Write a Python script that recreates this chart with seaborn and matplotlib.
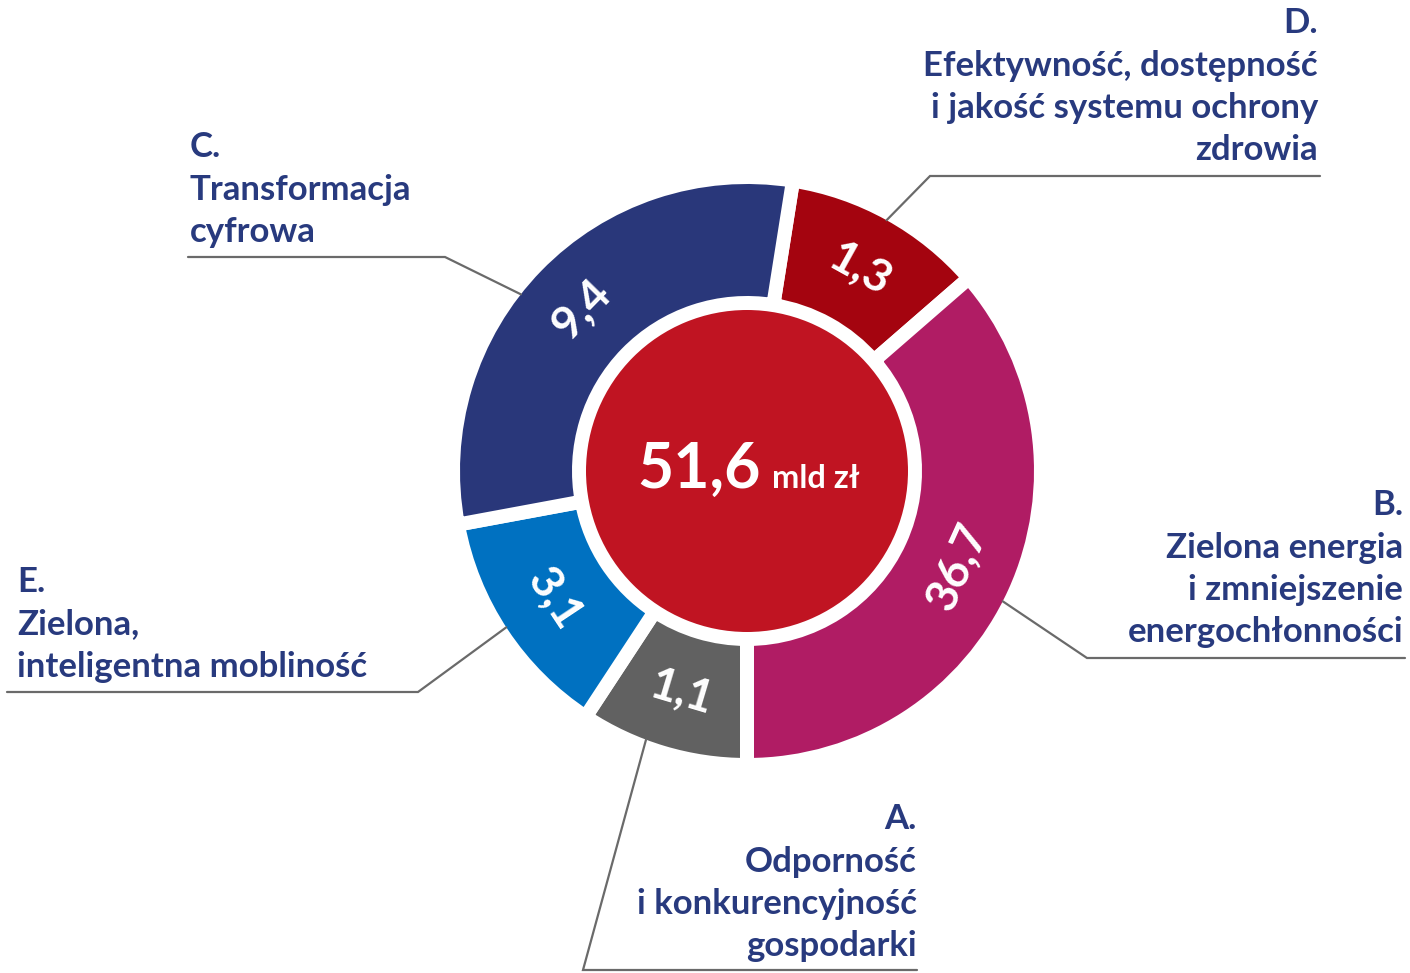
import matplotlib
matplotlib.use("Agg")
import matplotlib.pyplot as plt
import seaborn as sns
import numpy as np

#%% data

codes = ["D", "B", "A", "E", "C"]
values = [1.3, 36.7, 1.1, 3.1, 9.4]          # mld zl
# angular size of each slice as drawn in the graphic (degrees, clockwise from D)
slice_deg = [40.0, 131.0, 33.3, 46.2, 109.5]
total = 51.6

titles = {
    "D": ["D.", "Efektywność, dostępność", "i jakość systemu ochrony", "zdrowia"],
    "B": ["B.", "Zielona energia", "i zmniejszenie", "energochłonności"],
    "A": ["A.", "Odporność", "i konkurencyjność", "gospodarki"],
    "E": ["E.", "Zielona,", "inteligentna mobliność"],
    "C": ["C.", "Transformacja", "cyfrowa"],
}

colors = ["#a4040f", "#b01c64", "#616161", "#0071c1", "#29377a"]
center_color = "#c01422"
text_color = "#283a7e"
line_color = "#6a6a6a"

#%% layout (pixels, y from top)

W, H = 1410, 973
cx, cy = 747, H - 471
r_out, r_in = 287, 175
gap = 14                      # white gap between slices, px
r_center = 161
step = 42.5                   # line step of the labels

# text anchor x, alignment, first baseline, underline (far end, elbow, y), angle of the ring hit
layout = {
    "D": (1318, "right", 33, (1320, 930, 176), 60.9),
    "C": (190, "left", 157, (188, 445, 257), 142.0),
    "E": (17, "left", 592, (7, 418, 692), 213.0),
    "B": (1403, "right", 515, (1405, 1087, 658), -27.0),
    "A": (917, "right", 829, (917, 583, 970), 249.4),
}

#%% plotting

sns.set_theme(style="white")
plt.rcParams['font.family'] = ['Lato', 'DejaVu Sans']

fig = plt.figure(figsize=(W / 100, H / 100), dpi=100)
ax = fig.add_axes([0, 0, 1, 1])

lw_pt = gap * 72 / 100
R = r_out + gap / 2
wedges, _ = ax.pie(slice_deg, startangle=81, counterclock=False, radius=R,
                   center=(cx, cy), colors=colors,
                   wedgeprops=dict(width=R - r_in + gap / 2, edgecolor="white", linewidth=lw_pt))

ax.pie([total], radius=r_center, center=(cx, cy), colors=[center_color],
       wedgeprops=dict(linewidth=0))

# values on the ring
r_mid = (r_out + r_in) / 2
for w, v in zip(wedges, values):
    mid = (w.theta1 + w.theta2) / 2
    mid = (mid + 180) % 360 - 180
    rot = mid - 90 if np.sin(np.radians(mid)) >= 0 else mid + 90
    x = cx + r_mid * np.cos(np.radians(mid))
    y = cy + r_mid * np.sin(np.radians(mid))
    ax.text(x, y, "{:.1f}".format(v).replace(".", ","), color="white", fontsize=33,
            fontweight="bold", ha="center", va="center", rotation=rot,
            rotation_mode="anchor", zorder=5)

# total in the middle
ax.text(761, H - 488, "{:.1f}".format(total).replace(".", ","), color="white",
        fontsize=45, fontweight="bold", ha="right", va="baseline", zorder=5)
ax.text(772, H - 488, "mld zł", color="white", fontsize=23.5, fontweight="bold",
        ha="left", va="baseline", zorder=5)

# category labels with leader lines
for code in codes:
    x, ha, y0, (xa, xb, yl), ang = layout[code]
    for i, line in enumerate(titles[code]):
        ax.text(x, H - (y0 + i * step), line, color=text_color, fontsize=25,
                fontweight="bold", ha=ha, va="baseline")
    px = cx + r_out * np.cos(np.radians(ang))
    py = cy + r_out * np.sin(np.radians(ang))
    ax.plot([xa, xb, px], [H - yl, H - yl, py], color=line_color, lw=1.6,
            solid_joinstyle="miter", zorder=3)

ax.set_xlim(0, W)
ax.set_ylim(0, H)
ax.set_aspect("equal")
ax.axis("off")

fig.savefig("out.png", dpi=100)
